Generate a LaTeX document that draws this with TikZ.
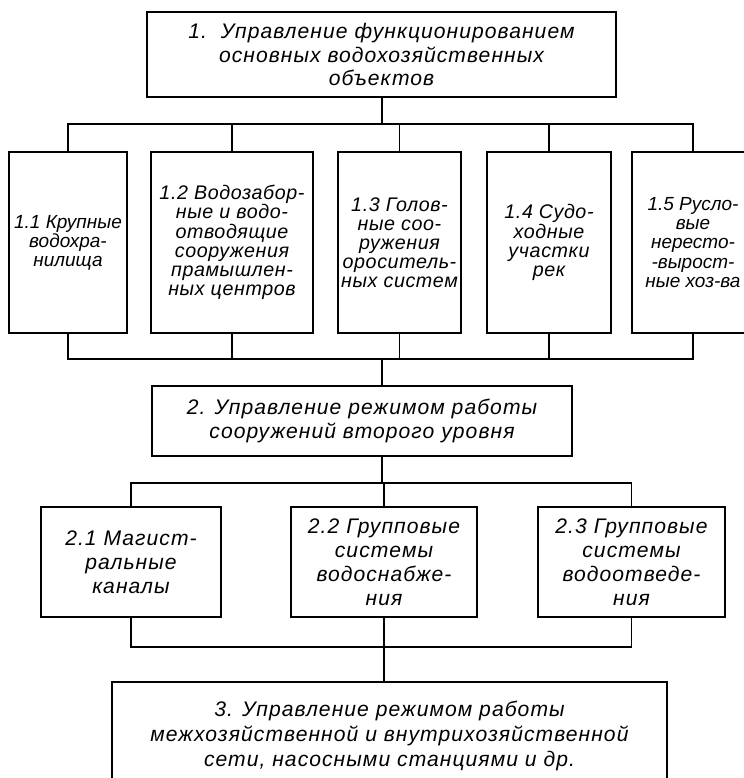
\documentclass[tikz,border=0pt]{standalone}
\usepackage{fontspec}
\setmainfont{Liberation Sans}
\newfontfamily\draftfont[LetterSpace=5]{Liberation Sans}
\newfontfamily\colfont[LetterSpace=3]{Liberation Sans}
\usetikzlibrary{positioning}

\begin{document}
\begin{tikzpicture}[x=0.025cm, y=-0.025cm,
    box/.style={draw, line width=1.5pt, inner sep=0pt, align=center,
                font=\draftfont\fontsize{15pt}{17pt}\selectfont\itshape},
    colbox/.style={box, minimum height=4.525cm,
                font=\colfont\fontsize{14pt}{13.6pt}\selectfont\itshape},
    tightbox/.style={colbox, font=\fontsize{13.5pt}{13.6pt}\selectfont\itshape},
    lowbox/.style={box, minimum height=2.75cm},
    wire/.style={line width=1.1pt}]
    \useasboundingbox (0,0) rectangle (744,778);
    \clip (0,0) rectangle (744,778);

    % level 1
    \node[box, minimum width=11.725cm, minimum height=2.125cm] (top) at (381.5,54.5)
        {1.\ \ Управление функционированием\\
         основных водохозяйственных\\ объектов};
    \node[tightbox, minimum width=2.95cm] (b11) at (68,242.5)  {1.1 Крупные\\ водохра-\\ нилища};
    \node[colbox, minimum width=4.05cm]  (b12) at (232,242.5) {1.2 Водозабор-\\ ные и водо-\\ отводящие\\ сооружения\\ прамышлен-\\ ных центров};
    \node[colbox, minimum width=3.075cm] (b13) at (399.5,242.5) {1.3 Голов-\\ ные соо-\\ ружения\\ ороситель-\\ ных систем};
    \node[colbox, minimum width=3.1cm]   (b14) at (549,242.5) {1.4 Судо-\\ ходные\\ участки\\ рек};
    \node[tightbox, minimum width=3.05cm] (b15) at (693,242.5) {1.5 Русло-\\ вые\\ нересто-\\ -вырост-\\ ные хоз-ва};

    % level 2
    \node[box, minimum width=10.5cm, minimum height=1.75cm] (b2) at (362,421)
        {2. Управление режимом работы\\ сооружений второго уровня};
    \node[lowbox, minimum width=4.5cm]   (b21) at (131,562)   {2.1 Магист-\\ ральные\\ каналы};
    \node[lowbox, minimum width=4.65cm]  (b22) at (384,562)   {2.2 Групповые\\ системы\\ водоснабже-\\ ния};
    \node[lowbox, minimum width=4.675cm] (b23) at (631.5,562) {2.3 Групповые\\ системы\\ водоотведе-\\ ния};

    % level 3
    \node[box, minimum width=13.875cm, minimum height=2.7cm,
          font=\draftfont\fontsize{15pt}{18pt}\selectfont\itshape] (b3) at (389.5,736)
        {3. Управление режимом работы\\
         межхозяйственной и внутрихозяйственной\\
         сети, насосными станциями и др.};

    % buses
    \coordinate (t1) at (382,124);
    \coordinate (t2) at (382,359);
    \coordinate (t3) at (382,483);
    \coordinate (t4) at (384,647);

    \draw[wire] (top.south -| t1) -- (t1);
    \draw[wire] (b11.north) |- (t1) -| (b15.north);
    \draw[wire] (b11.south) |- (t2) -| (b15.south);
    \foreach \b in {b12,b13,b14} {
        \draw[wire] (\b.north) -- (\b.north |- t1);
        \draw[wire] (\b.south) -- (\b.south |- t2);
    }
    \draw[wire] (t2) -- (t2 |- b2.north);
    \draw[wire] (t3 |- b2.south) -- (t3);
    \draw[wire] (b21.north) |- (t3) -| (b23.north);
    \draw[wire] (b22.north) -- (b22.north |- t3);
    \draw[wire] (b21.south) |- (t4) -| (b23.south);
    \draw[wire] (b22.south) -- (t4);
    \draw[wire] (t4) -- (t4 |- b3.north);
\end{tikzpicture}
\end{document}
